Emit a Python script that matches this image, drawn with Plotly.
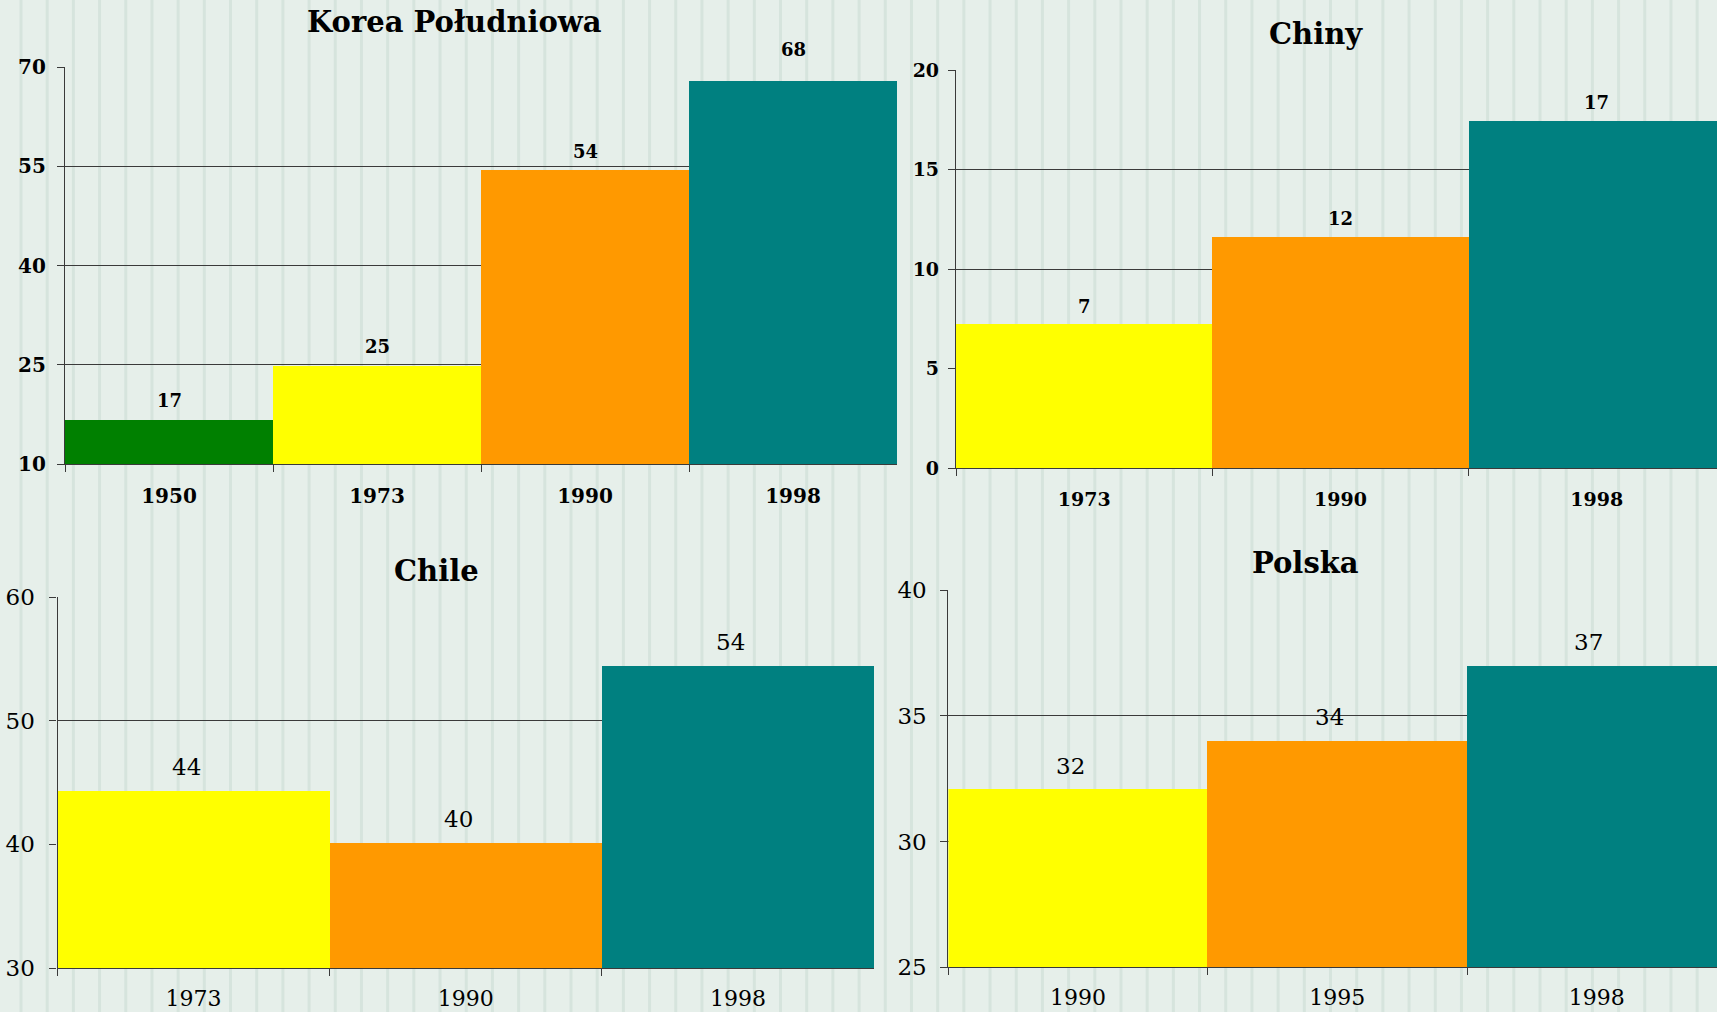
import plotly.graph_objects as go

# ---------------- data ----------------
korea_years = ["1950", "1973", "1990", "1998"]
korea_values = [16.7, 24.9, 54.4, 67.9]
korea_labels = ["17", "25", "54", "68"]
korea_colors = ["#008000", "#FFFF00", "#FF9900", "#008080"]
korea_ticks = [10, 25, 40, 55, 70]

chiny_years = ["1973", "1990", "1998"]
chiny_values = [7.24, 11.63, 17.44]
chiny_labels = ["7", "12", "17"]
chiny_ticks = [0, 5, 10, 15, 20]

chile_years = ["1973", "1990", "1998"]
chile_values = [44.3, 40.1, 54.45]
chile_labels = ["44", "40", "54"]
chile_ticks = [30, 40, 50, 60]

polska_years = ["1990", "1995", "1998"]
polska_values = [32.07, 34.0, 36.99]
polska_labels = ["32", "34", "37"]
polska_ticks = [25, 30, 35, 40]

three_colors = ["#FFFF00", "#FF9900", "#008080"]

W, H = 1717, 1012
BG = "#E6EFEA"
AX = "#3a3a3a"

fig = go.Figure()

panels = [
    dict(name="Korea Południowa", years=korea_years, values=korea_values, labels=korea_labels,
         colors=korea_colors, ticks=korea_ticks, yr=[10, 70], dom_x=[65, 897], dom_y=[67, 464.3],
         xr=[-0.5, 3.5], bold=True, title_xy=(454.5, 22), lab_shift=[19, 19, 19, 31], lab_x=0,
         ax="", tickfs=20, xfs=20, lfs=18, ystand=7, xstand=14),
    dict(name="Chiny", years=chiny_years, values=chiny_values, labels=chiny_labels,
         colors=three_colors, ticks=chiny_ticks, yr=[0, 20], dom_x=[956, 1717], dom_y=[70, 468.3],
         xr=[-0.5, 2.469], bold=True, title_xy=(1316, 34), lab_shift=[18, 18, 18], lab_x=0,
         ax="2", tickfs=19, xfs=19, lfs=18, ystand=5, xstand=14),
    dict(name="Chile", years=chile_years, values=chile_values, labels=chile_labels,
         colors=three_colors, ticks=chile_ticks, yr=[30, 60], dom_x=[57.5, 874], dom_y=[597.3, 968],
         xr=[-0.5, 2.5], bold=False, title_xy=(436, 571), lab_shift=[24, 24, 24], lab_x=-7,
         ax="3", tickfs=23, xfs=22, lfs=23, ystand=10, xstand=10),
    dict(name="Polska", years=polska_years, values=polska_values, labels=polska_labels,
         colors=three_colors, ticks=polska_ticks, yr=[25, 40], dom_x=[948.4, 1717], dom_y=[590.3, 967.3],
         xr=[-0.5, 2.464], bold=False, title_xy=(1305, 563), lab_shift=[24, 24, 24], lab_x=-8,
         ax="4", tickfs=23, xfs=22, lfs=23, ystand=9, xstand=10),
]

for p in panels:
    xa = "x" + p["ax"]
    ya = "y" + p["ax"]
    weight = "bold" if p["bold"] else "normal"
    fig.add_trace(go.Bar(
        x=p["years"], y=p["values"], marker=dict(color=p["colors"], line=dict(width=0)),
        xaxis=xa, yaxis=ya, showlegend=False, hoverinfo="x+y",
    ))
    xkey = "xaxis" + p["ax"]
    ykey = "yaxis" + p["ax"]
    fig.layout[xkey] = dict(
        domain=[p["dom_x"][0] / W, min(p["dom_x"][1] / W, 1.0)],
        anchor=ya, type="category", range=p["xr"],
        showgrid=False, showline=True, linecolor=AX, linewidth=1.2,
        ticks="outside", tickson="boundaries", ticklen=7, tickcolor=AX, tickwidth=1,
        tickfont=dict(family="DejaVu Serif", size=p["xfs"], color="#000000", weight=weight),
        ticklabelstandoff=p["xstand"], zeroline=False, fixedrange=True, automargin=False,
    )
    fig.layout[ykey] = dict(
        domain=[1 - p["dom_y"][1] / H, 1 - p["dom_y"][0] / H],
        anchor=xa, range=p["yr"], tickvals=p["ticks"],
        showgrid=True, gridcolor=AX, gridwidth=1.2,
        showline=True, linecolor=AX, linewidth=1.2,
        ticks="outside", ticklen=7, tickcolor=AX, tickwidth=1,
        tickfont=dict(family="DejaVu Serif", size=p["tickfs"], color="#000000", weight=weight),
        ticklabelstandoff=p["ystand"], zeroline=False, fixedrange=True, automargin=False,
    )
    # data labels (category index position on the category axis)
    for i, (v, lab) in enumerate(zip(p["values"], p["labels"])):
        fig.add_annotation(
            x=i, y=v, xref=xa, yref=ya, text=lab, showarrow=False,
            yanchor="middle", xanchor="center", yshift=p["lab_shift"][i], xshift=p["lab_x"],
            font=dict(family="DejaVu Serif", size=p["lfs"], color="#000000", weight=weight),
        )
    # panel title
    tx, ty = p["title_xy"]
    fig.add_annotation(
        x=tx / W, y=1 - ty / H, xref="paper", yref="paper", text=p["name"], showarrow=False,
        xanchor="center", yanchor="middle",
        font=dict(family="DejaVu Serif", size=29, color="#000000", weight="bold"),
    )

# background vertical stripes (decoration)
stripe_shapes = []
k = 0
while True:
    sx = 21 + 26.19 * k
    if sx > W:
        break
    stripe_shapes.append(dict(
        type="line", xref="paper", yref="paper", x0=sx / W, x1=sx / W, y0=0, y1=1,
        line=dict(color="#D6E4DD", width=3), layer="below",
    ))
    k += 1

fig.update_layout(
    width=W, height=H,
    margin=dict(l=0, r=0, t=0, b=0),
    paper_bgcolor=BG, plot_bgcolor="rgba(0,0,0,0)",
    bargap=0, showlegend=False,
    shapes=stripe_shapes,
)

fig.write_html(
    "out.html",
    config={"displayModeBar": False},
    post_script="document.body.style.margin='0';document.body.style.overflow='hidden';",
)
